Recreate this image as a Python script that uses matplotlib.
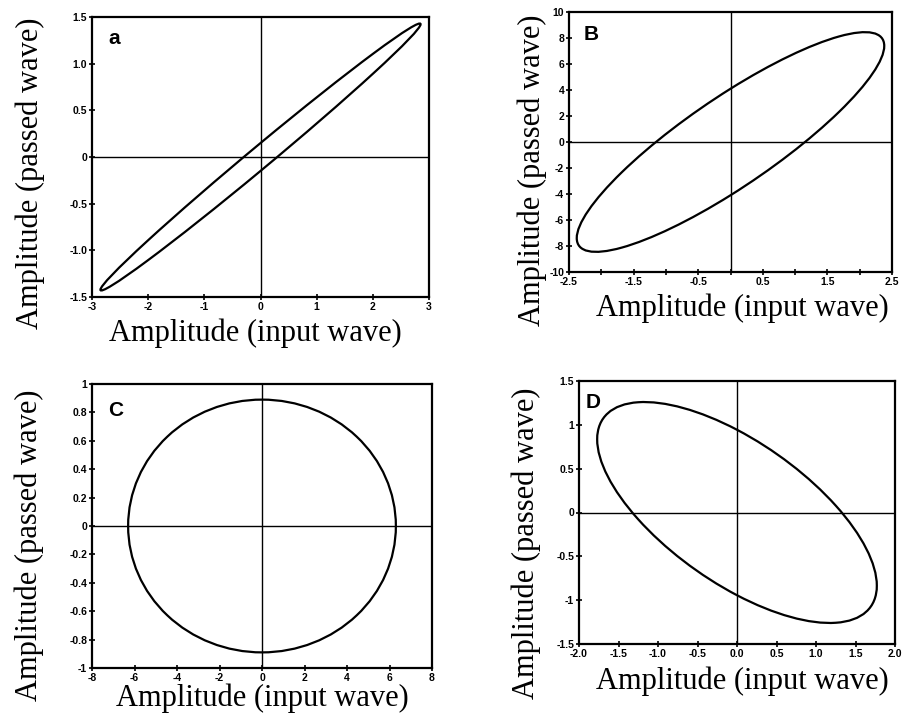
import numpy as np
import matplotlib
matplotlib.use("Agg")
import matplotlib.pyplot as plt
from matplotlib.patches import Circle
from matplotlib.transforms import Affine2D

# Panel data (Lissajous figures: input amplitude, passed amplitude, phase shift in degrees)
panel_letters = ["a", "B", "C", "D"]
x_amplitudes = [2.85, 2.38, 6.3, 1.77]
y_amplitudes = [1.43, 8.45, 0.89, 1.26]
phase_degrees = [6.0, 29.0, 90.0, 131.5]

x_limits = [(-3, 3), (-2.5, 2.5), (-8, 8), (-2.0, 2.0)]
y_limits = [(-1.5, 1.5), (-10, 10), (-1, 1), (-1.5, 1.5)]
x_tick_values = [[-3, -2, -1, 0, 1, 2, 3],
                 [-2.5, -1.5, -0.5, 0.5, 1.5, 2.5],
                 [-8, -6, -4, -2, 0, 2, 4, 6, 8],
                 [-2.0, -1.5, -1.0, -0.5, 0.0, 0.5, 1.0, 1.5, 2.0]]
x_tick_labels = [["-3", "-2", "-1", "0", "1", "2", "3"],
                 ["-2.5", "-1.5", "-0.5", "0.5", "1.5", "2.5"],
                 ["-8", "-6", "-4", "-2", "0", "2", "4", "6", "8"],
                 ["-2.0", "-1.5", "-1.0", "-0.5", "0.0", "0.5", "1.0", "1.5", "2.0"]]
x_minor_ticks = [[], [-2, -1, 0, 1, 2], [], []]
y_tick_values = [[-1.5, -1.0, -0.5, 0, 0.5, 1.0, 1.5],
                 [-10, -8, -6, -4, -2, 0, 2, 4, 6, 8, 10],
                 [-1, -0.8, -0.6, -0.4, -0.2, 0, 0.2, 0.4, 0.6, 0.8, 1],
                 [-1.5, -1, -0.5, 0, 0.5, 1, 1.5]]
y_tick_labels = [["-1.5", "-1.0", "-0.5", "0", "0.5", "1.0", "1.5"],
                 ["-10", "-8", "-6", "-4", "-2", "0", "2", "4", "6", "8", "10"],
                 ["-1", "-0.8", "-0.6", "-0.4", "-0.2", "0", "0.2", "0.4", "0.6", "0.8", "1"],
                 ["-1.5", "-1", "-0.5", "0", "0.5", "1", "1.5"]]

xlabel_text = "Amplitude (input wave)"
ylabel_text = "Amplitude (passed wave)"

W, H = 905, 713
fig = plt.figure(figsize=(W / 100, H / 100), dpi=100)

# axes boxes in pixels: left, top, right, bottom
boxes = [(92, 17, 429, 297), (569, 12, 892, 272), (92, 384, 432, 668), (579, 381, 895, 644)]
# label centres in pixels
xlabel_pos = [(255, 333), (742, 308), (262, 698), (742, 681)]
ylabel_pos = [(30, 173), (532, 170), (29, 545), (526, 543)]
letter_pos = [(108, 38), (584, 35), (108, 410), (586, 403)]

tick_font = dict(family="Liberation Sans", weight="bold", size=7.5)
label_font = dict(family="Liberation Serif", size=22)

for i in range(4):
    l, t, r, b = boxes[i]
    ax = fig.add_axes([l / W, 1 - b / H, (r - l) / W, (b - t) / H])
    ax.set_xlim(*x_limits[i])
    ax.set_ylim(*y_limits[i])
    ax.set_xticks(x_tick_values[i])
    ax.set_xticklabels(x_tick_labels[i], fontdict=tick_font)
    ax.set_yticks(y_tick_values[i])
    ax.set_yticklabels(y_tick_labels[i], fontdict=tick_font)
    if x_minor_ticks[i]:
        ax.set_xticks(x_minor_ticks[i], minor=True)
    ax.tick_params(axis="both", which="both", direction="inout", length=5, width=1.2, pad=1)
    for s in ax.spines.values():
        s.set_linewidth(1.6)
    ax.axhline(0, color="black", lw=1.0, zorder=1)
    ax.axvline(0, color="black", lw=1.0, zorder=1)

    A = x_amplitudes[i]
    B = y_amplitudes[i]
    ph = np.deg2rad(phase_degrees[i])
    trans = Affine2D.from_values(A, B * np.cos(ph), 0, B * np.sin(ph), 0, 0) + ax.transData
    ax.add_patch(Circle((0, 0), 1, fill=False, edgecolor="black", lw=1.6, transform=trans, zorder=2))

    lx, ly = letter_pos[i]
    ax.text((lx - l) / (r - l), 1 - (ly - t) / (b - t), panel_letters[i],
            transform=ax.transAxes, ha="left", va="center",
            family="Liberation Sans", weight="bold", size=15)

    xl, yl = xlabel_pos[i]
    fig.text(xl / W, 1 - yl / H, xlabel_text, ha="center", va="center", **label_font)
    yx, yy = ylabel_pos[i]
    fig.text(yx / W, 1 - yy / H, ylabel_text, ha="center", va="center", rotation=90, **label_font)

fig.savefig("out.png", dpi=100, facecolor="white")
